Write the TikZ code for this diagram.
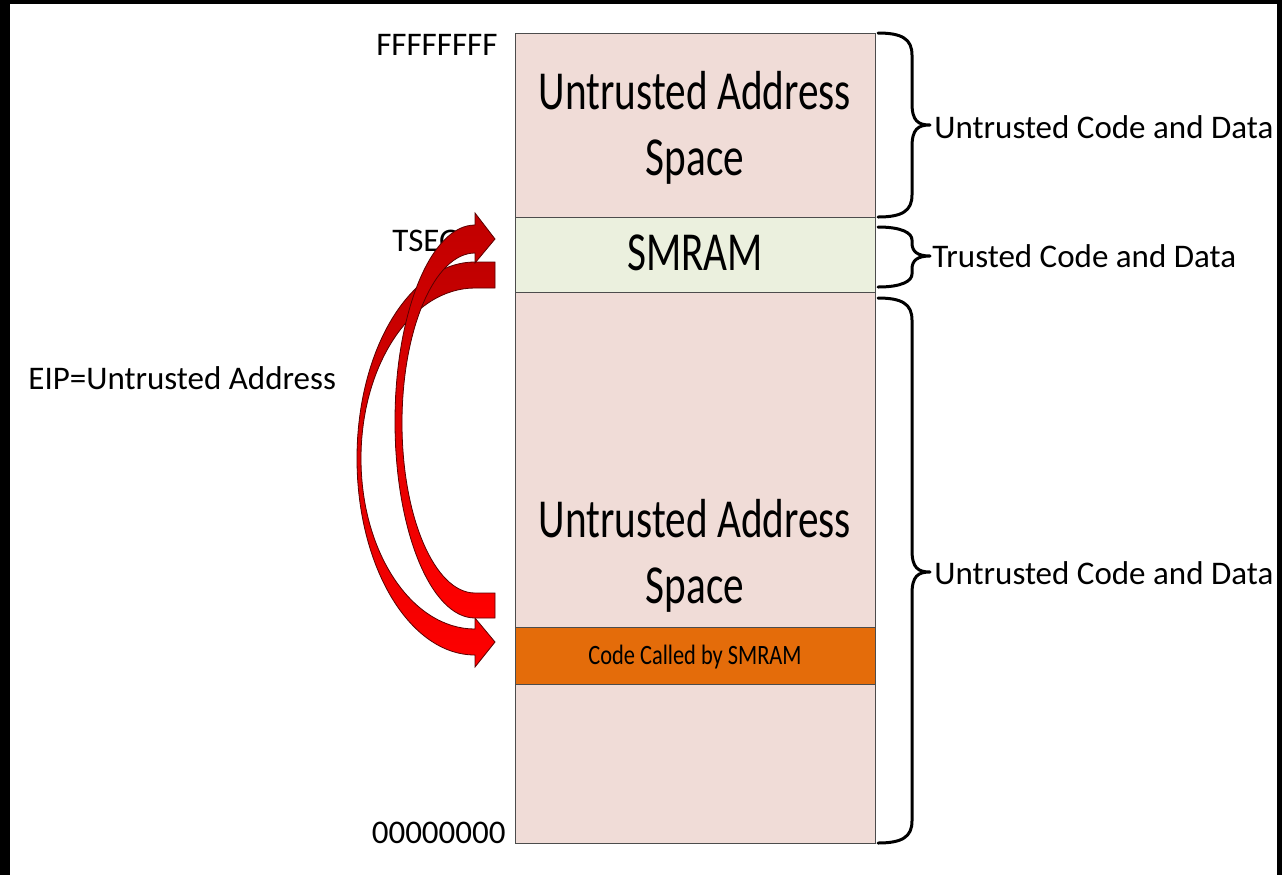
\documentclass[tikz,border=0pt]{standalone}
\usepackage{fontspec}
\setmainfont{Carlito}
\newfontfamily\condfont{Carlito}[FakeStretch=0.75]
\newfontfamily\midfont{Carlito}[FakeStretch=0.8]
\definecolor{pinkc}{HTML}{F0DCD7}
\definecolor{greenc}{HTML}{EBF0DE}
\definecolor{orangec}{HTML}{E46C0A}
\definecolor{darkredc}{HTML}{C00000}
\definecolor{brightredc}{HTML}{FF0000}
\definecolor{edgec}{HTML}{5A0000}
\newcommand{\mybrace}[4]{%
  \draw[bracesty] (878,#1) .. controls (902,#1) and (912,#1+6) .. (912,#1+#4)
    -- (912,#2-#4) .. controls (912,#2-4) and (918,#2) .. (930,#2)
    .. controls (918,#2) and (912,#2+4) .. (912,#2+#4)
    -- (912,#3-#4) .. controls (912,#3-6) and (902,#3) .. (878,#3);}
\begin{document}
\begin{tikzpicture}[x=0.5pt,y=-0.5pt,
  sec/.style={draw=black!70, line width=0.5pt},
  bigtext/.style={font=\condfont\fontsize{27.5}{33}\selectfont, align=center, inner sep=0pt},
  label/.style={font=\fontsize{16.5}{20}\selectfont, inner sep=0pt},
  codetext/.style={font=\midfont\fontsize{14}{17}\selectfont, inner sep=0pt},
  bracesty/.style={line width=1.5pt, line cap=round, line join=round},
  arrowsty/.style={top color=darkredc, bottom color=brightredc, draw=edgec, line width=0.4pt, line join=miter}]
\useasboundingbox (0,0) rectangle (1282,875);
\fill[white] (0,0) rectangle (1282,875);
\fill[black] (0,0) rectangle (10,875);
\fill[black] (0,0) rectangle (1282,4);
\fill[black] (1277,0) rectangle (1282,875);
% memory map sections
\draw[sec, fill=pinkc] (515,33) rectangle (875,217);
\draw[sec, fill=greenc] (515,217) rectangle (875,292);
\draw[sec, fill=pinkc] (515,292) rectangle (875,627);
\draw[sec, fill=orangec] (515,627) rectangle (875,684);
\draw[sec, fill=pinkc] (515,684) rectangle (875,843);
% texts in sections
\node[bigtext] (utop) at (695,128) {Untrusted Address\\Space};
\node[bigtext] (smram) at (695,253) {SMRAM};
\node[bigtext] (ulow) at (695,556) {Untrusted Address\\Space};
\node[codetext] (code) at (695,657) {Code Called by SMRAM};
% address labels
\node[label, anchor=east] (ffff) at (498,45) {FFFFFFFF};
\node[label, anchor=west] (tseg) at (392,241) {TSEG};
\node[label, anchor=east] (zero) at (506,833) {00000000};
\node[label, anchor=west] (eip) at (28,378) {EIP=Untrusted Address};
% braces and labels
\mybrace{33}{125}{217}{22}
\mybrace{227}{256}{287}{13}
\mybrace{298}{572}{843}{22}
\node[label, anchor=west] (l1) at (934,127) {Untrusted Code and Data};
\node[label, anchor=west] (l2) at (932,256) {Trusted Code and Data};
\node[label, anchor=west] (l3) at (934,573) {Untrusted Code and Data};
% curved arrows
\draw[arrowsty] (495,262) -- (475,262)
  arc[start angle=270, end angle=90, x radius=118, y radius=196.5]
  -- (475,667) -- (495,642) -- (475,618) -- (475,629)
  arc[start angle=90, end angle=270, x radius=114, y radius=170.5]
  -- (495,288) -- cycle;
\draw[arrowsty] (495,618) -- (475,618)
  arc[start angle=90, end angle=270, x radius=80, y radius=196.5]
  -- (475,213) -- (495,239) -- (475,263) -- (475,253)
  arc[start angle=270, end angle=90, x radius=73, y radius=170]
  -- (495,593) -- cycle;
\end{tikzpicture}
\end{document}
